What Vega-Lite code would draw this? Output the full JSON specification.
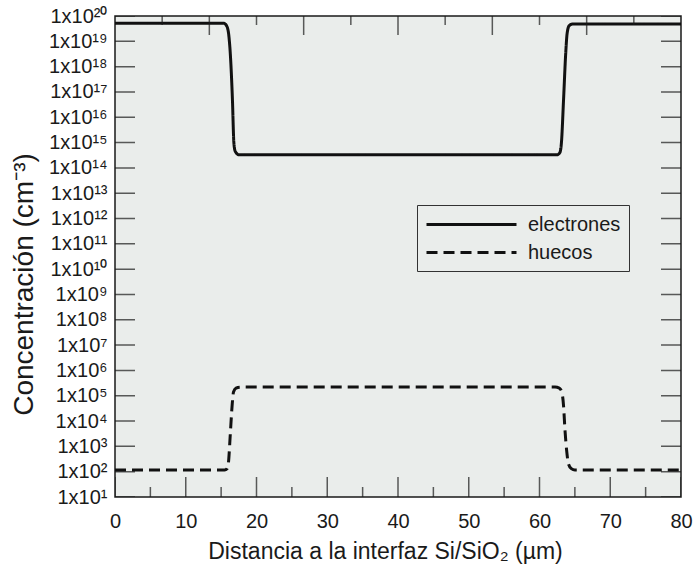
{
  "$schema": "https://vega.github.io/schema/vega-lite/v6.json",
  "width": 566,
  "height": 481,
  "autosize": "none",
  "padding": {"left": 115, "top": 16, "right": 13, "bottom": 72},
  "background": "#ffffff",
  "config": {
    "font": "Liberation Sans",
    "view": {"fill": "#eaedeb", "stroke": "#1a1a1a", "strokeWidth": 1.5},
    "axis": {"domain": false, "grid": false, "ticks": false, "labelColor": "#1a1a1a", "titleColor": "#1a1a1a", "titleFontWeight": "normal"}
  },
  "datasets": {
    "curvas": [
      {"distancia": 0, "concentracion": 5.13e19, "portador": "electrones"},
      {"distancia": 15.4, "concentracion": 5.13e19, "portador": "electrones"},
      {"distancia": 15.8, "concentracion": 3.98e19, "portador": "electrones"},
      {"distancia": 16.1, "concentracion": 1.58e19, "portador": "electrones"},
      {"distancia": 16.3, "concentracion": 3.16e18, "portador": "electrones"},
      {"distancia": 16.6, "concentracion": 4.8e16, "portador": "electrones"},
      {"distancia": 16.8, "concentracion": 1e15, "portador": "electrones"},
      {"distancia": 17.0, "concentracion": 4.47e14, "portador": "electrones"},
      {"distancia": 17.5, "concentracion": 3.31e14, "portador": "electrones"},
      {"distancia": 62.5, "concentracion": 3.31e14, "portador": "electrones"},
      {"distancia": 62.9, "concentracion": 4.17e14, "portador": "electrones"},
      {"distancia": 63.1, "concentracion": 1e15, "portador": "electrones"},
      {"distancia": 63.4, "concentracion": 5.0e16, "portador": "electrones"},
      {"distancia": 63.7, "concentracion": 3.16e18, "portador": "electrones"},
      {"distancia": 63.9, "concentracion": 2.0e19, "portador": "electrones"},
      {"distancia": 64.2, "concentracion": 4.17e19, "portador": "electrones"},
      {"distancia": 64.7, "concentracion": 4.79e19, "portador": "electrones"},
      {"distancia": 80, "concentracion": 4.79e19, "portador": "electrones"},
      {"distancia": 0, "concentracion": 117, "portador": "huecos"},
      {"distancia": 15.5, "concentracion": 117, "portador": "huecos"},
      {"distancia": 15.85, "concentracion": 132, "portador": "huecos"},
      {"distancia": 16.05, "concentracion": 251, "portador": "huecos"},
      {"distancia": 16.3, "concentracion": 3162, "portador": "huecos"},
      {"distancia": 16.55, "concentracion": 39800, "portador": "huecos"},
      {"distancia": 16.75, "concentracion": 141000, "portador": "huecos"},
      {"distancia": 17.1, "concentracion": 200000, "portador": "huecos"},
      {"distancia": 17.7, "concentracion": 219000, "portador": "huecos"},
      {"distancia": 62.2, "concentracion": 219000, "portador": "huecos"},
      {"distancia": 62.8, "concentracion": 200000, "portador": "huecos"},
      {"distancia": 63.15, "concentracion": 141000, "portador": "huecos"},
      {"distancia": 63.4, "concentracion": 39800, "portador": "huecos"},
      {"distancia": 63.6, "concentracion": 4470, "portador": "huecos"},
      {"distancia": 63.85, "concentracion": 631, "portador": "huecos"},
      {"distancia": 64.1, "concentracion": 200, "portador": "huecos"},
      {"distancia": 64.5, "concentracion": 132, "portador": "huecos"},
      {"distancia": 65.0, "concentracion": 117, "portador": "huecos"},
      {"distancia": 80, "concentracion": 117, "portador": "huecos"}
    ],
    "marcasInferiores": [
      {"valor": 0}, {"valor": 5}, {"valor": 10}, {"valor": 15}, {"valor": 20}, {"valor": 25}, {"valor": 30}, {"valor": 35}, {"valor": 40},
      {"valor": 45}, {"valor": 50}, {"valor": 55}, {"valor": 60}, {"valor": 65}, {"valor": 70}, {"valor": 75}, {"valor": 80}
    ],
    "marcasSuperiores": [
      {"valor": 6.6667}, {"valor": 13.3333}, {"valor": 20}, {"valor": 26.6667}, {"valor": 33.3333}, {"valor": 40},
      {"valor": 46.6667}, {"valor": 53.3333}, {"valor": 60}, {"valor": 66.6667}, {"valor": 73.3333}
    ],
    "decadas": [
      {"valor": 10}, {"valor": 100}, {"valor": 1000}, {"valor": 10000}, {"valor": 100000}, {"valor": 1e6}, {"valor": 1e7},
      {"valor": 1e8}, {"valor": 1e9}, {"valor": 1e10}, {"valor": 1e11}, {"valor": 1e12}, {"valor": 1e13}, {"valor": 1e14},
      {"valor": 1e15}, {"valor": 1e16}, {"valor": 1e17}, {"valor": 1e18}, {"valor": 1e19}, {"valor": 1e20}
    ]
  },
  "layer": [
    {
      "data": {"name": "curvas"},
      "transform": [{"filter": "datum.portador === 'electrones'"}],
      "mark": {"type": "line", "interpolate": "monotone", "strokeWidth": 3, "color": "#111111"},
      "encoding": {
        "x": {
          "field": "distancia", "type": "quantitative",
          "scale": {"domain": [0, 80], "nice": false, "zero": false},
          "axis": {
            "orient": "bottom",
            "values": [0, 10, 20, 30, 40, 50, 60, 70, 80],
            "labelFontSize": 20,
            "labelPadding": 14,
            "labelFlush": false,
            "labelOverlap": false,
            "title": "Distancia a la interfaz Si/SiO₂ (µm)",
            "titleFontSize": 23,
            "titleX": 270,
            "titleY": 61,
            "titleAlign": "center",
            "titleBaseline": "alphabetic"
          }
        },
        "y": {
          "field": "concentracion", "type": "quantitative",
          "scale": {"type": "log", "domain": [10, 1e20], "nice": false},
          "axis": {
            "orient": "left",
            "values": [10, 100, 1000, 10000, 100000, 1e6, 1e7, 1e8, 1e9, 1e10, 1e11, 1e12, 1e13, 1e14, 1e15, 1e16, 1e17, 1e18, 1e19, 1e20],
            "labelPadding": 8,
            "labelFontSize": 20,
            "labelOverlap": false,
            "labelFlush": false,
            "labelExpr": "'1x10' + (round(log(datum.value) / LN10) >= 10 ? substring('⁰¹²³⁴⁵⁶⁷⁸⁹', floor(round(log(datum.value) / LN10) / 10), floor(round(log(datum.value) / LN10) / 10) + 1) : '') + substring('⁰¹²³⁴⁵⁶⁷⁸⁹', round(log(datum.value) / LN10) % 10, round(log(datum.value) / LN10) % 10 + 1)",
            "title": "Concentración (cm⁻³)",
            "titleFontSize": 28,
            "titleAngle": 270,
            "titleX": -83,
            "titleY": 268,
            "titleAlign": "center",
            "titleBaseline": "alphabetic"
          }
        },
        "strokeDash": {
          "field": "portador", "type": "nominal",
          "scale": {"domain": ["electrones", "huecos"], "range": [[1, 0], [11, 6]]},
          "legend": {
            "orient": "none",
            "legendX": 302,
            "legendY": 189,
            "title": null,
            "symbolType": "M-1,0H8",
            "symbolSize": 400,
            "symbolStrokeWidth": 3,
            "symbolStrokeColor": "#111111",
            "labelFontSize": 20,
            "labelOffset": 80,
            "labelColor": "#1a1a1a",
            "rowPadding": 6,
            "padding": 8,
            "strokeColor": "#333333"
          }
        }
      }
    },
    {
      "data": {"name": "curvas"},
      "transform": [{"filter": "datum.portador === 'huecos'"}],
      "mark": {"type": "line", "interpolate": "monotone", "strokeWidth": 3, "color": "#111111"},
      "encoding": {
        "x": {"field": "distancia", "type": "quantitative", "axis": null},
        "y": {"field": "concentracion", "type": "quantitative", "axis": null},
        "strokeDash": {"field": "portador", "type": "nominal"}
      }
    },
    {
      "data": {"name": "marcasInferiores"},
      "mark": {"type": "tick", "orient": "vertical", "clip": true, "thickness": 1.5, "color": "#1a1a1a"},
      "encoding": {
        "x": {"field": "valor", "type": "quantitative", "axis": null},
        "y": {"datum": 10, "type": "quantitative", "axis": null},
        "size": {"condition": {"test": "datum.valor % 10 === 0", "value": 40}, "value": 20}
      }
    },
    {
      "data": {"name": "marcasSuperiores"},
      "mark": {"type": "tick", "orient": "vertical", "clip": true, "thickness": 1.5, "color": "#1a1a1a"},
      "encoding": {
        "x": {"field": "valor", "type": "quantitative", "axis": null},
        "y": {"datum": 1e20, "type": "quantitative", "axis": null},
        "size": {"condition": {"test": "round(datum.valor * 3 / 20) % 2 === 0", "value": 38}, "value": 18}
      }
    },
    {
      "data": {"name": "decadas"},
      "mark": {"type": "tick", "orient": "horizontal", "clip": true, "thickness": 1.5, "color": "#1a1a1a", "size": 40},
      "encoding": {
        "x": {"datum": 0, "type": "quantitative", "axis": null},
        "y": {"field": "valor", "type": "quantitative", "axis": null}
      }
    },
    {
      "data": {"name": "decadas"},
      "mark": {"type": "tick", "orient": "horizontal", "clip": true, "thickness": 1.5, "color": "#1a1a1a", "size": 40},
      "encoding": {
        "x": {"datum": 80, "type": "quantitative", "axis": null},
        "y": {"field": "valor", "type": "quantitative", "axis": null}
      }
    }
  ],
  "resolve": {"axis": {"x": "independent", "y": "independent"}}
}
